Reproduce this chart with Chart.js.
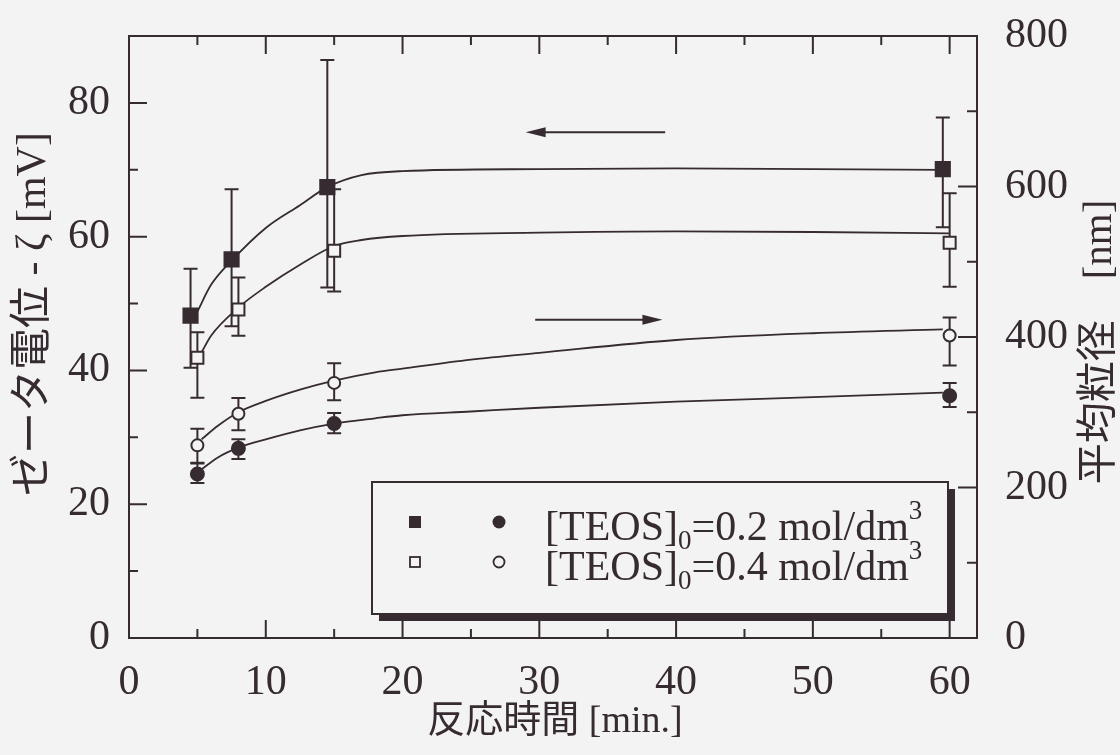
<!DOCTYPE html>
<html lang="ja">
<head>
<meta charset="utf-8">
<script src="https://cdn.jsdelivr.net/npm/chart.js@4.4.1/dist/chart.umd.min.js"></script>
<style>
  html, body { margin: 0; padding: 0; background: #f4f3f4; }
  #wrap { width: 1120px; height: 755px; position: relative; }
</style>
</head>
<body>
<div id="wrap"><canvas id="chart"></canvas></div>
<script>
// 反応時間 [min.] と測定値（■□ はゼータ電位、●○ は平均粒径）
const timeSq02 = [4.5, 7.5, 14.5, 59.5];
const zeta02 = [48.2, 56.6, 67.4, 70.1];
const zeta02Lo = [40.4, 46.6, 52.4, 61.4];
const zeta02Hi = [55.2, 67.1, 86.4, 77.8];

const timeSq04 = [5, 8, 15, 60];
const zeta04 = [41.9, 49.1, 57.9, 59.1];
const zeta04Lo = [35.9, 45.2, 51.8, 52.5];
const zeta04Hi = [45.7, 53.9, 67.1, 66.5];

const timeCircle = [5, 8, 15, 60];
const size02 = [218, 252, 285, 322];
const size02Lo = [206, 238, 272, 307];
const size02Hi = [232, 264, 299, 339];
const size04 = [256, 298, 339, 402];
const size04Lo = [233, 276, 316, 362];
const size04Hi = [278, 319, 365, 426];

// フィッティング曲線（読み取り値）
const fitTimeSq02 = [5, 6, 7.5, 10, 12.5, 14.5, 17, 20, 30, 40, 50, 59.5];
const fitZeta02 = [48.8, 52.8, 56.4, 61.3, 64.7, 67.4, 69.2, 69.8, 70.1, 70.2, 70.1, 70.0];
const fitTimeSq04 = [5.3, 6, 8, 10, 12.5, 15, 17, 20, 30, 40, 50, 60];
const fitZeta04 = [42.7, 45.2, 49.4, 52.5, 55.8, 58.6, 59.5, 60.1, 60.6, 60.8, 60.7, 60.5];
const fitTimeCircle = [5.3, 6.5, 8, 10, 12.5, 15, 18, 20, 25, 30, 40, 50, 59.5];
const fitSize04 = [264, 282, 300, 315, 330, 342, 353, 358, 370, 379, 396, 405, 410];
const fitSize02 = [224, 240, 253, 264, 276, 285, 292, 296, 301, 306, 314, 320, 326];

// 軸の目盛と凡例
const xTickStep = 10;
const zetaTickStep = 20;
const sizeTickStep = 200;
const legendConc = ['0.2', '0.4'];

const ink = '#352b31';
const paper = '#f4f3f4';
const serif = "'Liberation Serif', 'Noto Sans CJK JP', serif";

const pts = (xs, ys) => xs.map((x, i) => ({ x, y: ys[i] }));

const markerSet = (xs, ys, lo, hi, axis, style, filled, radius) => ({
  data: pts(xs, ys),
  errLo: lo,
  errHi: hi,
  yAxisID: axis,
  showLine: false,
  pointStyle: style,
  pointRadius: radius,
  pointBorderWidth: 2,
  pointBorderColor: ink,
  pointBackgroundColor: filled ? ink : paper,
});

const curveSet = (xs, ys, axis) => ({
  data: pts(xs, ys),
  yAxisID: axis,
  showLine: true,
  pointRadius: 0,
  borderColor: ink,
  borderWidth: 1.8,
  cubicInterpolationMode: 'monotone',
});

const paperPlugin = {
  id: 'paper',
  beforeDraw(chart) {
    const { ctx, width, height } = chart;
    ctx.save();
    ctx.fillStyle = paper;
    ctx.fillRect(0, 0, width, height);
    ctx.restore();
  },
};

// 誤差棒
const errorBarPlugin = {
  id: 'errorBars',
  beforeDatasetsDraw(chart) {
    const ctx = chart.ctx;
    ctx.save();
    ctx.strokeStyle = ink;
    ctx.lineWidth = 2;
    chart.data.datasets.forEach((ds, di) => {
      if (!ds.errLo) return;
      const meta = chart.getDatasetMeta(di);
      const scale = chart.scales[ds.yAxisID];
      meta.data.forEach((pt, i) => {
        const yLo = scale.getPixelForValue(ds.errLo[i]);
        const yHi = scale.getPixelForValue(ds.errHi[i]);
        ctx.beginPath();
        ctx.moveTo(pt.x, yLo);
        ctx.lineTo(pt.x, yHi);
        ctx.moveTo(pt.x - 7, yLo);
        ctx.lineTo(pt.x + 7, yLo);
        ctx.moveTo(pt.x - 7, yHi);
        ctx.lineTo(pt.x + 7, yHi);
        ctx.stroke();
      });
    });
    ctx.restore();
  },
};

function midpoints(ticks) {
  const out = [];
  for (let i = 0; i < ticks.length - 1; i++) out.push((ticks[i].value + ticks[i + 1].value) / 2);
  return out;
}

function vText(ctx, text, x, y, size) {
  ctx.save();
  ctx.translate(x, y);
  ctx.rotate(-Math.PI / 2);
  ctx.font = `${size}px ${serif}`;
  ctx.textAlign = 'center';
  ctx.textBaseline = 'middle';
  ctx.fillText(text, 0, 0);
  ctx.restore();
}

function arrow(ctx, x0, x1, y) {
  const dir = Math.sign(x1 - x0);
  ctx.beginPath();
  ctx.moveTo(x0, y);
  ctx.lineTo(x1 - dir * 10, y);
  ctx.stroke();
  ctx.beginPath();
  ctx.moveTo(x1, y);
  ctx.lineTo(x1 - dir * 20, y - 5);
  ctx.lineTo(x1 - dir * 20, y + 5);
  ctx.closePath();
  ctx.fill();
}

function legendRow(ctx, x, y, conc) {
  ctx.textBaseline = 'alphabetic';
  ctx.textAlign = 'left';
  ctx.font = `42px ${serif}`;
  ctx.fillText('[TEOS]', x, y);
  x += ctx.measureText('[TEOS]').width;
  ctx.font = `27px ${serif}`;
  ctx.fillText('0', x, y + 9);
  x += ctx.measureText('0').width;
  ctx.font = `42px ${serif}`;
  const main = `=${conc} mol/dm`;
  ctx.fillText(main, x, y);
  x += ctx.measureText(main).width;
  ctx.font = `27px ${serif}`;
  ctx.fillText('3', x, y - 21);
}

// 枠・内向き目盛・軸名・矢印・凡例
const framePlugin = {
  id: 'frame',
  afterDraw(chart) {
    const { ctx, chartArea: a, scales } = chart;
    const { x, y, y1 } = scales;
    ctx.save();
    ctx.strokeStyle = ink;
    ctx.fillStyle = ink;
    ctx.lineWidth = 2;
    ctx.strokeRect(a.left, a.top, a.right - a.left, a.bottom - a.top);

    ctx.beginPath();
    const xMajor = x.ticks.map(t => t.value);
    const xMinor = midpoints(x.ticks);
    xMajor.concat(xMinor).forEach((v, i) => {
      const len = i < xMajor.length ? 18 : 9;
      const px = x.getPixelForValue(v);
      ctx.moveTo(px, a.bottom); ctx.lineTo(px, a.bottom - len);
      ctx.moveTo(px, a.top); ctx.lineTo(px, a.top + len);
    });
    const yMajor = y.ticks.map(t => t.value);
    yMajor.concat(midpoints(y.ticks), [yMajor[yMajor.length - 1] + zetaTickStep / 2]).forEach((v, i) => {
      if (v <= y.min || v >= y.max) return;
      const len = i < yMajor.length ? 18 : 9;
      const py = y.getPixelForValue(v);
      ctx.moveTo(a.left, py); ctx.lineTo(a.left + len, py);
    });
    const rMajor = y1.ticks.map(t => t.value);
    rMajor.concat(midpoints(y1.ticks)).forEach((v, i) => {
      if (v <= y1.min || v >= y1.max) return;
      const len = i < rMajor.length ? 19 : 10;
      const py = y1.getPixelForValue(v);
      ctx.moveTo(a.right, py); ctx.lineTo(a.right - len, py);
    });
    ctx.stroke();

    // 軸名
    vText(ctx, 'ゼータ電位 - ζ [mV]', 34, 314, 42);
    vText(ctx, '平均粒径　[nm]', 1100, 342, 41);
    ctx.font = `38px ${serif}`;
    ctx.textAlign = 'center';
    ctx.textBaseline = 'middle';
    ctx.fillText('反応時間 [min.]', 555, 722);

    // 矢印（← ゼータ電位、→ 平均粒径）
    ctx.lineWidth = 2;
    arrow(ctx, x.getPixelForValue(39.2), x.getPixelForValue(29.0), y.getPixelForValue(75.6));
    arrow(ctx, x.getPixelForValue(29.7), x.getPixelForValue(39.0), y1.getPixelForValue(423));

    // 凡例
    const bx = 372, by = 482, bw = 576, bh = 132;
    ctx.fillRect(bx + 7, by + 7, bw, bh);
    ctx.fillStyle = paper;
    ctx.fillRect(bx, by, bw, bh);
    ctx.strokeRect(bx, by, bw, bh);
    ctx.fillStyle = ink;
    const rows = [522, 562];
    // ■ ●
    ctx.fillRect(409, rows[0] - 6, 12, 12);
    ctx.beginPath(); ctx.arc(499, rows[0], 6.5, 0, Math.PI * 2); ctx.fill();
    // □ ○
    ctx.lineWidth = 1.8;
    ctx.strokeRect(410, rows[1] - 5, 10, 10);
    ctx.beginPath(); ctx.arc(499, rows[1], 5.5, 0, Math.PI * 2); ctx.stroke();
    legendConc.forEach((c, i) => legendRow(ctx, 545, rows[i] + 18, c));
    ctx.restore();
  },
};

const tickFont = { family: serif, size: 42 };
const noVPad = s => { s.paddingTop = 0; s.paddingBottom = 0; };

new Chart(document.getElementById('chart'), {
  type: 'scatter',
  data: {
    datasets: [
      markerSet(timeSq02, zeta02, zeta02Lo, zeta02Hi, 'y', 'rect', true, 10),
      markerSet(timeSq04, zeta04, zeta04Lo, zeta04Hi, 'y', 'rect', false, 8.5),
      markerSet(timeCircle, size02, size02Lo, size02Hi, 'y1', 'circle', true, 6.5),
      markerSet(timeCircle, size04, size04Lo, size04Hi, 'y1', 'circle', false, 6),
      curveSet(fitTimeSq02, fitZeta02, 'y'),
      curveSet(fitTimeSq04, fitZeta04, 'y'),
      curveSet(fitTimeCircle, fitSize02, 'y1'),
      curveSet(fitTimeCircle, fitSize04, 'y1'),
    ],
  },
  options: {
    responsive: true,
    maintainAspectRatio: false,
    animation: false,
    events: [],
    layout: { padding: { top: 36, left: 0, right: 0, bottom: 0 } },
    plugins: {
      legend: { display: false },
      tooltip: { enabled: false },
    },
    scales: {
      x: {
        type: 'linear',
        position: 'bottom',
        min: 0,
        max: 62,
        grid: { display: false },
        border: { display: false },
        ticks: { stepSize: xTickStep, includeBounds: false, padding: 12, color: ink, font: tickFont, maxRotation: 0 },
        afterFit: s => { s.height = 117; s.paddingLeft = 0; s.paddingRight = 0; },
      },
      y: {
        position: 'left',
        min: 0,
        max: 90,
        grid: { display: false },
        border: { display: false },
        ticks: { stepSize: zetaTickStep, includeBounds: false, padding: 11, color: ink, font: tickFont },
        afterFit: s => { s.width = 129; noVPad(s); },
      },
      y1: {
        position: 'right',
        min: 0,
        max: 800,
        grid: { display: false },
        border: { display: false },
        ticks: { stepSize: sizeTickStep, padding: 20, color: ink, font: tickFont },
        afterFit: s => { s.width = 143; noVPad(s); },
      },
    },
  },
  plugins: [paperPlugin, errorBarPlugin, framePlugin],
});
</script>
</body>
</html>
